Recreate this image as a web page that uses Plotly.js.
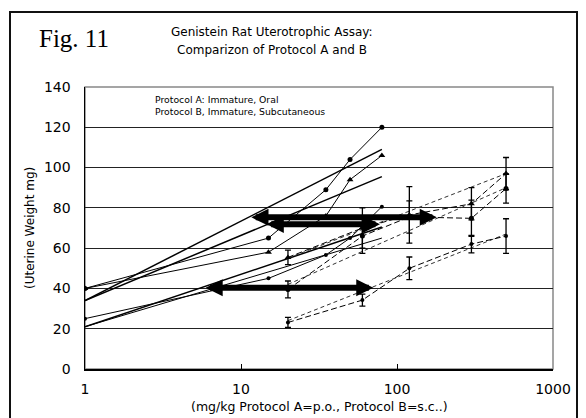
<!DOCTYPE html>
<html>
<head>
<meta charset="utf-8">
<script src="https://cdn.plot.ly/plotly-3.0.1.min.js"></script>
<style>
  html, body { margin: 0; padding: 0; background: #fff; }
  #chart { width: 586px; height: 418px; }
</style>
</head>
<body>
<div id="chart"></div>
<script>
// Protocol A (immature, oral): dose groups, vehicle control plotted at 1 mg/kg
const doseA = [1, 15, 35, 50, 80];
const weightA1 = [40, 65, 89, 104, 120];
const weightA2 = [40, 58, 76, 94, 106];
const weightA3 = [25, 45, 56.6, 65, 80.6];

// Protocol A fitted log-dose lines
const fitDoseA = [1, 80];
const fitA1 = [34, 109];
const fitA2 = [34, 95.5];
const fitA3 = [21, 70.5];
const fitA4 = [21, 65];

// Protocol B (immature, subcutaneous): means and SD
const doseB = [20, 60, 120, 300, 500];
const weightB1 = [55.4, 70, 76.5, 82, 97];
const sdB1 = [3.6, 10, 14, 8, 8];
const weightB2 = [39.5, 66, 75.5, 74.8, 89.6];
const sdB2 = [4.2, 8.6, 8, 9, 7.3];
const weightB3 = [23.1, 34.2, 50, 62, 66];
const sdB3 = [2.5, 3, 5.6, 4.3, 8.6];

// Protocol B fitted log-dose lines
const fitDoseB = [20, 500];
const fitB1 = [55, 97];
const fitB2 = [42, 90];
const fitB3 = [24, 67];

// Dose shifts between the two protocols at equal uterine weight
const shiftLow = [11.4, 14.3, 5.8];
const shiftHigh = [180, 77.7, 70.5];
const shiftWeight = [75.3, 71.8, 40.3];

// Axis labels
const xTicks = [1, 10, 100, 1000];
const xTickText = ['1', '10', '100', '1000'];

const FONT = '"DejaVu Sans", Arial, sans-serif';
const INK = '#000';

function dataLine(x, y, symbol, size) {
  return { x: x, y: y, type: 'scatter', mode: 'lines+markers',
    line: { color: INK, width: 1 },
    marker: { color: INK, symbol: symbol, size: size }, hoverinfo: 'skip' };
}
function fitLine(x, y) {
  return { x: x, y: y, type: 'scatter', mode: 'lines',
    line: { color: INK, width: 1.5 }, hoverinfo: 'skip' };
}
function dataLineB(x, y, sd, symbol, size) {
  return { x: x, y: y, type: 'scatter', mode: 'lines+markers',
    line: { color: INK, width: 1, dash: '6px,3px' },
    marker: { color: INK, symbol: symbol, size: size },
    error_y: { type: 'data', array: sd, visible: true, color: INK, thickness: 1.3, width: 3 },
    hoverinfo: 'skip' };
}
function fitLineB(x, y) {
  return { x: x, y: y, type: 'scatter', mode: 'lines',
    line: { color: '#333', width: 1, dash: '4px,3px' }, hoverinfo: 'skip' };
}

const traces = [
  fitLine(fitDoseA, fitA1),
  fitLine(fitDoseA, fitA2),
  fitLine(fitDoseA, fitA3),
  { x: fitDoseA, y: fitA4, type: 'scatter', mode: 'lines', line: { color: INK, width: 1 }, hoverinfo: 'skip' },
  dataLine(doseA, weightA1, 'circle', 5),
  dataLine(doseA, weightA2, 'triangle-up', 6),
  dataLine(doseA, weightA3, 'circle', 4),
  fitLineB(fitDoseB, fitB1),
  fitLineB(fitDoseB, fitB2),
  fitLineB(fitDoseB, fitB3),
  dataLineB(doseB, weightB1, sdB1, 'triangle-up', 6),
  dataLineB(doseB, weightB2, sdB2, 'circle', 5),
  dataLineB(doseB, weightB3, sdB3, 'circle', 4)
];

// Plot-area pixel geometry used for paper-referenced text
const L = 85, T = 87, W = 468, H = 281.7;
const px = v => (v - L) / W;
const py = v => (T + H - v) / H;

const annotations = [];
// double-headed shift arrows (log axis: positions in log10 units)
for (let i = 0; i < shiftLow.length; i++) {
  annotations.push({
    x: Math.log10(shiftHigh[i]), y: shiftWeight[i],
    ax: Math.log10(shiftLow[i]), ay: shiftWeight[i],
    xref: 'x', yref: 'y', axref: 'x', ayref: 'y',
    text: '', showarrow: true, arrowside: 'end+start',
    arrowhead: 2, startarrowhead: 2,
    arrowsize: 0.57, startarrowsize: 0.57,
    arrowwidth: 6, arrowcolor: INK
  });
}
annotations.push(
  { text: 'Fig. 11', xref: 'paper', yref: 'paper', x: px(37), y: py(39),
    xanchor: 'left', yanchor: 'middle', showarrow: false,
    font: { family: 'Liberation Serif, Times New Roman, serif', size: 25, color: INK } },
  { text: 'Genistein Rat Uterotrophic Assay:', xref: 'paper', yref: 'paper', x: px(271.5), y: py(32.5),
    xanchor: 'center', yanchor: 'middle', showarrow: false,
    font: { family: FONT, size: 12, color: INK } },
  { text: 'Comparizon of Protocol A and B', xref: 'paper', yref: 'paper', x: px(271.5), y: py(50),
    xanchor: 'center', yanchor: 'middle', showarrow: false,
    font: { family: FONT, size: 12, color: INK } },
  { text: 'Protocol A: Immature, Oral', xref: 'paper', yref: 'paper', x: px(152.5), y: py(99),
    xanchor: 'left', yanchor: 'middle', showarrow: false,
    font: { family: FONT, size: 9.3, color: INK } },
  { text: 'Protocol B, Immature, Subcutaneous', xref: 'paper', yref: 'paper', x: px(152.5), y: py(111.5),
    xanchor: 'left', yanchor: 'middle', showarrow: false,
    font: { family: FONT, size: 9.3, color: INK } },
  { text: '(Uterine Weight mg)', xref: 'paper', yref: 'paper', x: px(30), y: 0.5,
    xanchor: 'center', yanchor: 'middle', textangle: -90, showarrow: false,
    font: { family: FONT, size: 12, color: INK } },
  { text: '(mg/kg Protocol A=p.o., Protocol B=s.c..)', xref: 'paper', yref: 'paper', x: 0.5, y: py(406),
    xanchor: 'center', yanchor: 'middle', showarrow: false,
    font: { family: FONT, size: 12.5, color: INK } }
);

const layout = {
  width: 586, height: 418,
  margin: { l: L, r: 586 - L - W, t: T, b: 418 - T - H },
  paper_bgcolor: '#fff', plot_bgcolor: '#fff',
  showlegend: false,
  xaxis: {
    type: 'log', range: [0, 3],
    tickvals: xTicks, ticktext: xTickText,
    ticks: 'inside', ticklen: 5, tickwidth: 1, tickcolor: INK,
    showline: true, linecolor: INK, linewidth: 2,
    showgrid: false, zeroline: false,
    ticklabelstandoff: 6,
    tickfont: { family: FONT, size: 14, color: INK }
  },
  yaxis: {
    range: [0, 140], dtick: 20,
    showgrid: true, gridcolor: '#222', gridwidth: 1,
    showline: true, linecolor: INK, linewidth: 1.5,
    zeroline: false, ticks: '',
    ticklabelstandoff: 10,
    tickfont: { family: FONT, size: 14, color: INK }
  },
  shapes: [
    { type: 'rect', xref: 'paper', yref: 'paper', x0: 0, x1: 1, y0: 0, y1: 1,
      line: { color: '#888', width: 1.5 }, layer: 'below' },
    { type: 'rect', xref: 'paper', yref: 'paper',
      x0: px(10), x1: px(577), y0: py(440), y1: py(12),
      line: { color: '#111', width: 2 }, layer: 'below' }
  ],
  annotations: annotations
};

Plotly.newPlot('chart', traces, layout, { staticPlot: true, displayModeBar: false });
</script>
</body>
</html>
